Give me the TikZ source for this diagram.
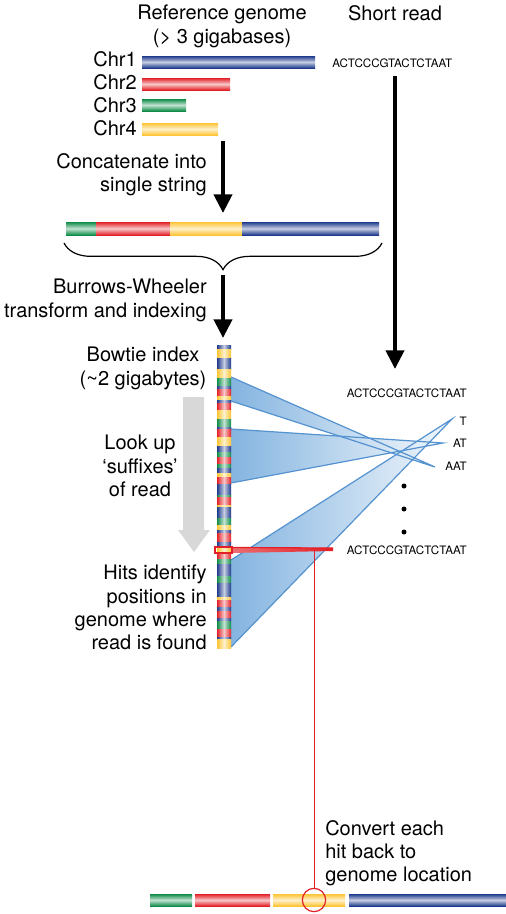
\documentclass[tikz,border=0pt]{standalone}
\usepackage{xcolor}
\usepackage{fontspec}
\setmainfont{TeX Gyre Heros}
\usetikzlibrary{arrows.meta,decorations.pathreplacing}

\definecolor{gBlue}{RGB}{30,58,140}
\definecolor{gRed}{RGB}{226,32,38}
\definecolor{gGreen}{RGB}{14,140,72}
\definecolor{gYellow}{RGB}{253,196,52}
\definecolor{fanBlue}{RGB}{132,180,224}
\definecolor{fanEdge}{RGB}{84,146,208}
\definecolor{lookGray}{RGB}{216,216,216}

\newcommand{\chrbar}[5]{\shade[top color=#1, bottom color=#1, middle color=#1!25!white] (#2,#3) rectangle (#4,#5);}

\tikzset{
  bigtxt/.style={inner sep=0pt, font=\fontsize{15}{17.4}\selectfont},
  seqtxt/.style={inner sep=0pt, font=\fontsize{8.7}{10}\selectfont},
  bigarrow/.style={line width=3pt, -{Triangle[width=13.5pt,length=14pt]}},
  fanline/.style={draw=fanEdge, line width=0.9pt},
}

\begin{document}
\begin{tikzpicture}[x=0.75pt,y=0.75pt,yscale=-1,xscale=1]
\path[use as bounding box] (0,0) rectangle (506,914);

% Text Node
\draw (222,5) node (refLbl) [bigtxt, anchor=north, align=center] {Reference genome\\(\textgreater{} 3 gigabases)};
% Text Node
\draw (395,5) node (readLbl) [bigtxt, anchor=north] {Short read};
% Text Node
\draw (332,67) node (readTop) [seqtxt, anchor=base west] {ACTCCCGTACTCTAAT};

% Text Node
\draw (137,66) node (chrOne) [bigtxt, anchor=base east] {Chr1};
% Text Node
\draw (137,89) node (chrTwo) [bigtxt, anchor=base east] {Chr2};
% Text Node
\draw (137,112) node (chrThree) [bigtxt, anchor=base east] {Chr3};
% Text Node
\draw (137,135) node (chrFour) [bigtxt, anchor=base east] {Chr4};

%Shape: Bars of chromosomes
\chrbar{gBlue}{142}{56}{315}{68}
\chrbar{gRed}{142}{78}{230}{90}
\chrbar{gGreen}{142}{99}{186}{111}
\chrbar{gYellow}{142}{123}{218}{135}

%Straight Lines
\coordinate (catFrom) at (223,141);
\coordinate (catTo) at (223,213);
\draw [bigarrow] (catFrom) -- (catTo);
% Text Node
\draw (207,153) node (catLbl) [bigtxt, anchor=north east, align=right] {Concatenate into\\single string};

%Shape: Concatenated string
\chrbar{gGreen}{66}{222}{96}{235}
\chrbar{gRed}{96}{222}{170}{235}
\chrbar{gYellow}{170}{222}{242}{235}
\chrbar{gBlue}{242}{222}{379}{235}

%Shape: Brace
\coordinate (braceL) at (64,243);
\coordinate (braceR) at (382,243);
\draw [line width=0.9pt, decorate, decoration={brace, mirror, amplitude=20pt}] (braceL) -- (braceR);

%Straight Lines
\coordinate (bwFrom) at (223,275);
\coordinate (bwTo) at (223,338);
\draw [bigarrow] (bwFrom) -- (bwTo);
% Text Node
\draw (207,279) node (bwLbl) [bigtxt, anchor=north east, align=right] {Burrows-Wheeler\\transform and indexing};

%Straight Lines
\coordinate (readFrom) at (395,76);
\coordinate (readTo) at (395,369);
\draw [bigarrow] (readFrom) -- (readTo);
% Text Node
\draw (467,397) node (readMid) [seqtxt, anchor=base east] {ACTCCCGTACTCTAAT};

% Text Node
\draw (143,347) node (bowtieLbl) [bigtxt, anchor=north, align=center] {Bowtie index\\(\textasciitilde 2 gigabytes)};

%Shape: Gray arrow
\fill [lookGray] (183,397) -- (204,397) -- (204,530) -- (210,530) -- (194,552) -- (178,530) -- (183,530) -- cycle;
% Text Node
\draw (140,435) node (lookLbl) [bigtxt, anchor=north, align=center] {Look up\\‘suffixes’\\of read};
% Text Node
\draw (207,565) node (hitsLbl) [bigtxt, anchor=north east, align=right] {Hits identify\\positions in\\genome where\\read is found};

%Shape: Fans
\coordinate (tTip) at (452,419);
\coordinate (atTip) at (443,443);
\coordinate (aatTip) at (435,467);
\shade [left color=fanBlue, right color=fanBlue!10!white] (231,377) -- (aatTip) -- (231,401) -- cycle;
\shade [left color=fanBlue, right color=fanBlue!10!white] (231,429) -- (atTip) -- (231,483) -- cycle;
\shade [left color=fanBlue, right color=fanBlue!10!white] (231,560) -- (tTip) -- (231,647) -- cycle;
\draw [fanline] (231,377) -- (aatTip) -- (231,401);
\draw [fanline] (231,429) -- (atTip) -- (231,483);
\draw [fanline] (231,560) -- (tTip) -- (231,647);

% Text Node
\draw (467,425) node (tLbl) [seqtxt, anchor=base east] {T};
% Text Node
\draw (467,447) node (atLbl) [seqtxt, anchor=base east] {AT};
% Text Node
\draw (467,470) node (aatLbl) [seqtxt, anchor=base east] {AAT};
%Shape: Dots
\fill (404,486) circle (2.5);
\fill (404,509) circle (2.5);
\fill (404,532) circle (2.5);

%Shape: Index column
\foreach \ya/\yb/\col in {345/349/gBlue, 349/358/gYellow, 358/369/gBlue, 369/378/gYellow, 378/386/gGreen, 386/389/gBlue, 389/396/gRed, 396/400/gYellow, 400/403/gBlue, 403/410/gRed, 410/419/gYellow, 419/427/gGreen, 427/429/gBlue, 429/437/gRed, 437/446/gYellow, 446/452/gBlue, 452/457/gGreen, 457/464/gRed, 464/468/gGreen, 468/473/gBlue, 473/477/gYellow, 477/484/gRed, 484/495/gBlue, 495/497/gGreen, 497/505/gRed, 505/507/gYellow, 507/518/gBlue, 518/525/gGreen, 525/530/gYellow, 530/533/gBlue, 533/542/gRed, 542/547/gBlue, 547/552/gYellow, 552/559/gRed, 559/564/gGreen, 564/576/gBlue, 576/583/gGreen, 583/597/gBlue, 597/600/gYellow, 600/607/gRed, 607/611/gBlue, 611/618/gRed, 618/621/gBlue, 621/625/gGreen, 625/629/gGreen, 629/637/gRed, 637/639/gBlue, 639/648/gYellow}
  \shade [left color=\col, right color=\col, middle color=\col!25!white] (217,\ya) rectangle (231,\yb);

%Shape: Hit
\coordinate (hitTip) at (333,548);
\shade [left color=gRed!65!white, right color=gRed] (231,547) -- (hitTip) -- (333,551) -- (231,553) -- cycle;
\draw [gRed, line width=0.9pt] (231,547.5) -- (hitTip);
\draw [gRed, line width=0.8pt] (215,547) rectangle (232,553);
% Text Node
\draw (467,554) node (readLow) [seqtxt, anchor=base east] {ACTCCCGTACTCTAAT};

%Shape: Genome at bottom
\chrbar{gGreen}{150}{894}{192}{906}
\chrbar{gRed}{195}{894}{270}{906}
\chrbar{gYellow}{273}{894}{345}{906}
\chrbar{gBlue}{349}{894}{506}{906}

%Straight Lines
\coordinate (hitDrop) at (314,550);
\draw (314,900) node (hitCircle) [circle, draw=gRed, line width=0.9pt, minimum size=17.5pt, inner sep=0pt] {};
\draw [gRed, line width=0.75pt] (hitDrop) -- (hitCircle.north);
% Text Node
\draw (325,820) node (convLbl) [bigtxt, anchor=north west, align=left] {Convert each\\hit back to\\genome location};

\end{tikzpicture}
\end{document}
